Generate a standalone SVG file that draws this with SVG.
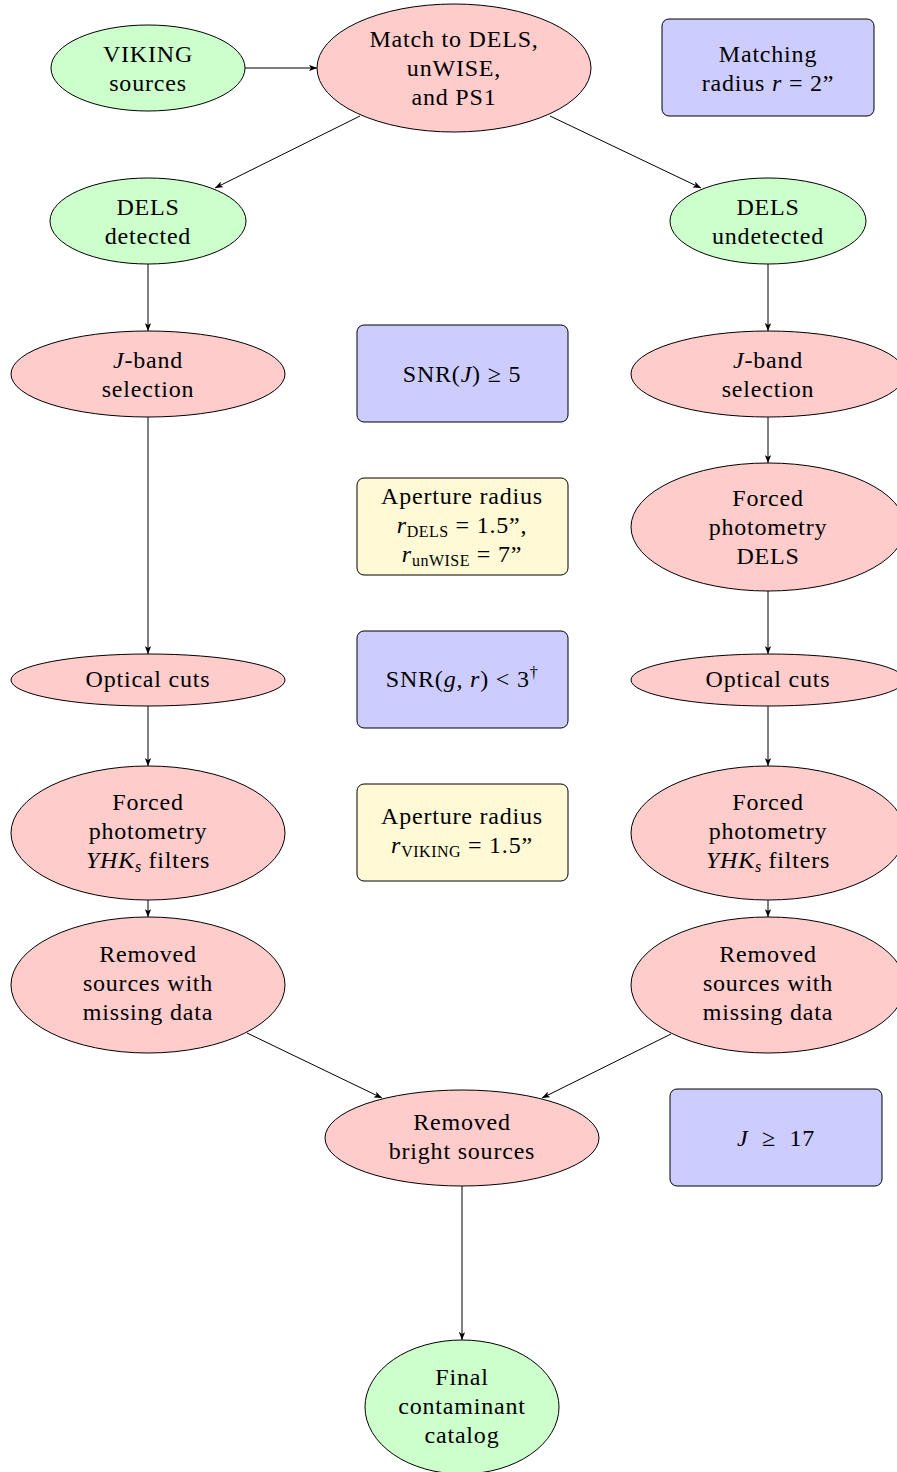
<svg xmlns="http://www.w3.org/2000/svg" width="897" height="1472" viewBox="0 0 897 1472">
<defs>
<style>
text{font-family:"Liberation Serif","DejaVu Serif",serif;font-size:24px;letter-spacing:0.8px;fill:#000;text-anchor:middle}
.g{fill:#ccffcc;stroke:#000;stroke-width:1}
.p{fill:#ffcccc;stroke:#000;stroke-width:1}
.b{fill:#ccccff;stroke:#000;stroke-width:1}
.y{fill:#fff9d6;stroke:#000;stroke-width:1}
.e{fill:none;stroke:#000;stroke-width:1;marker-end:url(#ah)}
.i{font-style:italic}
.s{font-size:16px;letter-spacing:0.5px}
</style>
<marker id="ah" viewBox="0 0 10 8" refX="10" refY="4" markerWidth="8" markerHeight="6.4" markerUnits="userSpaceOnUse" orient="auto">
<path d="M0,0 L10,4 L0,8 L2.5,4 Z" fill="#000"/>
</marker>
</defs>
<g id="connectors">
<line class="e" x1="245" y1="68" x2="317" y2="68"/>
<line class="e" x1="360" y1="116" x2="215" y2="188"/>
<line class="e" x1="550" y1="116" x2="701" y2="188"/>
<line class="e" x1="148" y1="264" x2="148" y2="331"/>
<line class="e" x1="148" y1="417" x2="148" y2="654"/>
<line class="e" x1="148" y1="706" x2="148" y2="766"/>
<line class="e" x1="148" y1="900" x2="148" y2="917"/>
<line class="e" x1="768" y1="264" x2="768" y2="331"/>
<line class="e" x1="768" y1="417" x2="768" y2="463"/>
<line class="e" x1="768" y1="591" x2="768" y2="654"/>
<line class="e" x1="768" y1="706" x2="768" y2="766"/>
<line class="e" x1="768" y1="900" x2="768" y2="917"/>
<line class="e" x1="247" y1="1033" x2="382" y2="1098"/>
<line class="e" x1="671" y1="1034" x2="542" y2="1098"/>
<line class="e" x1="462" y1="1186" x2="462" y2="1340"/>
</g>
<g id="viking">
<ellipse class="g" cx="148" cy="68" rx="97" ry="43"/>
<text x="148" y="62">VIKING</text>
<text x="148" y="91">sources</text>
</g>
<g id="match">
<ellipse class="p" cx="454" cy="68" rx="137" ry="64"/>
<text x="454" y="47">Match to DELS,</text>
<text x="454" y="76">unWISE,</text>
<text x="454" y="105">and PS1</text>
</g>
<g id="matchradius">
<rect class="b" x="662" y="19" width="212" height="97" rx="7"/>
<text x="768" y="62">Matching</text>
<text x="768" y="91">radius <tspan class="i">r</tspan>&#160;=&#160;2”</text>
</g>
<g id="delsdet">
<ellipse class="g" cx="148" cy="221" rx="98" ry="43"/>
<text x="148" y="215">DELS</text>
<text x="148" y="244">detected</text>
</g>
<g id="delsundet">
<ellipse class="g" cx="768" cy="221" rx="98" ry="43"/>
<text x="768" y="215">DELS</text>
<text x="768" y="244">undetected</text>
</g>
<g id="jbandL">
<ellipse class="p" cx="148" cy="374" rx="137" ry="43"/>
<text x="148" y="368"><tspan class="i">J</tspan>-band</text>
<text x="148" y="397">selection</text>
</g>
<g id="snrj">
<rect class="b" x="357" y="325" width="211" height="97" rx="7"/>
<text x="462" y="382">SNR(<tspan class="i">J</tspan>)&#160;≥&#160;5</text>
</g>
<g id="jbandR">
<ellipse class="p" cx="768" cy="374" rx="137" ry="43"/>
<text x="768" y="368"><tspan class="i">J</tspan>-band</text>
<text x="768" y="397">selection</text>
</g>
<g id="aperture1">
<rect class="y" x="357" y="478" width="211" height="97" rx="7"/>
<text x="462" y="504">Aperture radius</text>
<text x="462" y="533"><tspan class="i">r</tspan><tspan class="s" dy="4">DELS</tspan><tspan dy="-4">&#160;=&#160;1.5”,</tspan></text>
<text x="462" y="562"><tspan class="i">r</tspan><tspan class="s" dy="4">unWISE</tspan><tspan dy="-4">&#160;=&#160;7”</tspan></text>
</g>
<g id="forcedDELS">
<ellipse class="p" cx="768" cy="527" rx="137" ry="64"/>
<text x="768" y="506">Forced</text>
<text x="768" y="535">photometry</text>
<text x="768" y="564">DELS</text>
</g>
<g id="opticalL">
<ellipse class="p" cx="148" cy="680" rx="137" ry="26"/>
<text x="148" y="687">Optical cuts</text>
</g>
<g id="snrgr">
<rect class="b" x="357" y="631" width="211" height="97" rx="7"/>
<text x="462" y="687">SNR(<tspan class="i">g, r</tspan>)&#160;&lt;&#160;3<tspan class="s" dy="-9">†</tspan></text>
</g>
<g id="opticalR">
<ellipse class="p" cx="768" cy="680" rx="137" ry="26"/>
<text x="768" y="687">Optical cuts</text>
</g>
<g id="forcedL">
<ellipse class="p" cx="148" cy="833" rx="137" ry="67"/>
<text x="148" y="810">Forced</text>
<text x="148" y="839">photometry</text>
<text x="148" y="868"><tspan class="i">YHK</tspan><tspan class="s i" dy="4">s</tspan><tspan dy="-4"> filters</tspan></text>
</g>
<g id="aperture2">
<rect class="y" x="357" y="784" width="211" height="97" rx="7"/>
<text x="462" y="824">Aperture radius</text>
<text x="462" y="853"><tspan class="i">r</tspan><tspan class="s" dy="4">VIKING</tspan><tspan dy="-4">&#160;=&#160;1.5”</tspan></text>
</g>
<g id="forcedR">
<ellipse class="p" cx="768" cy="833" rx="137" ry="67"/>
<text x="768" y="810">Forced</text>
<text x="768" y="839">photometry</text>
<text x="768" y="868"><tspan class="i">YHK</tspan><tspan class="s i" dy="4">s</tspan><tspan dy="-4"> filters</tspan></text>
</g>
<g id="removedL">
<ellipse class="p" cx="148" cy="985" rx="137" ry="68"/>
<text x="148" y="962">Removed</text>
<text x="148" y="991">sources with</text>
<text x="148" y="1020">missing data</text>
</g>
<g id="removedR">
<ellipse class="p" cx="768" cy="985" rx="137" ry="68"/>
<text x="768" y="962">Removed</text>
<text x="768" y="991">sources with</text>
<text x="768" y="1020">missing data</text>
</g>
<g id="bright">
<ellipse class="p" cx="462" cy="1138" rx="137" ry="48"/>
<text x="462" y="1130">Removed</text>
<text x="462" y="1159">bright sources</text>
</g>
<g id="jcut">
<rect class="b" x="670" y="1089" width="212" height="97" rx="7"/>
<text x="776" y="1146"><tspan class="i">J</tspan>&#160;&#160;≥&#160;&#160;17</text>
</g>
<g id="final">
<ellipse class="g" cx="462" cy="1407" rx="97" ry="67"/>
<text x="462" y="1385">Final</text>
<text x="462" y="1414">contaminant</text>
<text x="462" y="1443">catalog</text>
</g>
</svg>
